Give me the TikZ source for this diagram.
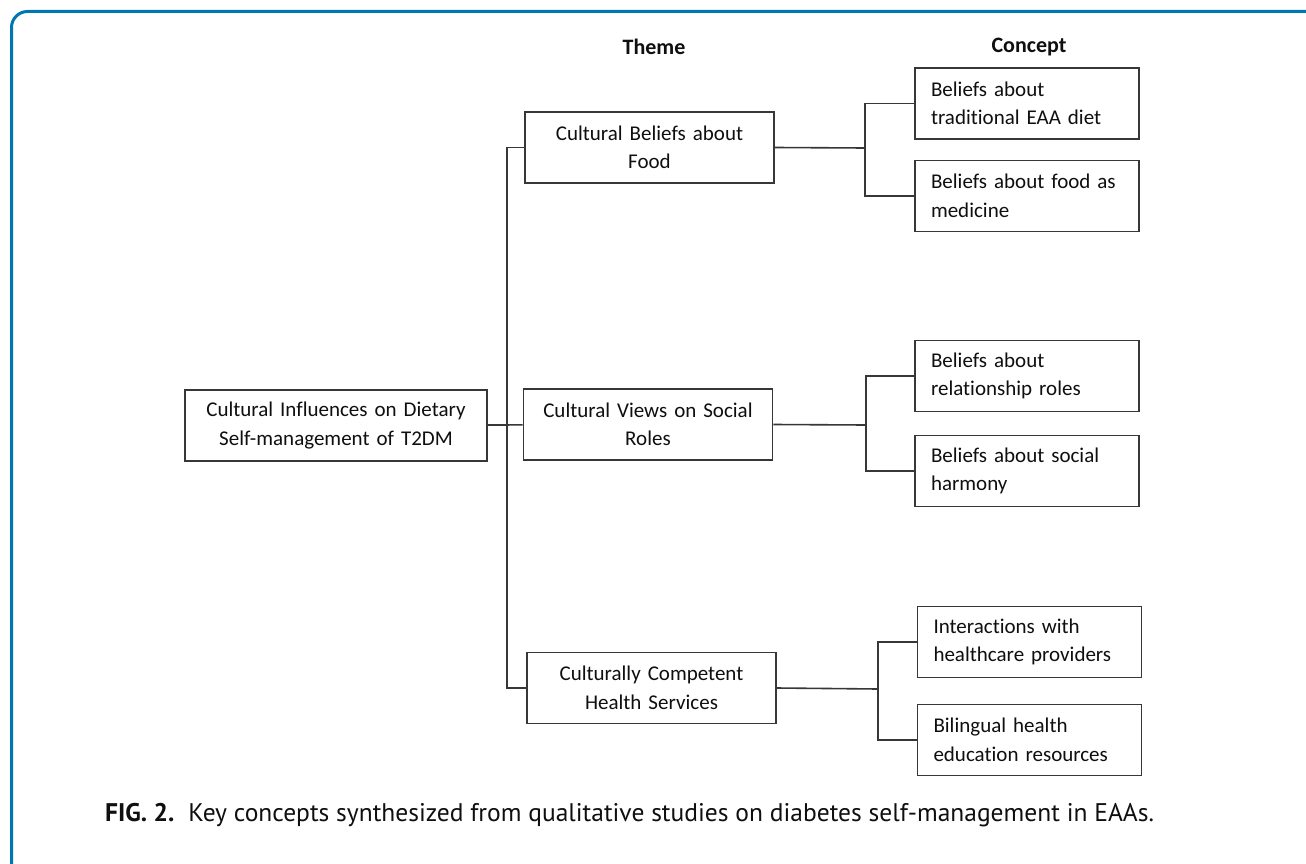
\documentclass[tikz,border=0pt]{standalone}
\usepackage{fontspec}
\setmainfont{Carlito}[Ligatures={NoCommon}]
\newfontfamily\capfont{PT Sans}
\definecolor{framecol}{RGB}{0,119,179}
\definecolor{boxline}{RGB}{55,55,55}
\definecolor{txt}{RGB}{15,15,15}
\begin{document}
\begin{tikzpicture}[x=1pt,y=-1pt,
  box/.style={draw=boxline, line width=1.6pt, text=txt, font=\fontsize{21}{28.5}\selectfont, minimum height=71pt},
  themebox/.style={box, text width=233pt, inner xsep=8pt, align=center},
  rootbox/.style={box, text width=286pt, inner xsep=8pt, align=center},
  conceptbox/.style={box, text width=192pt, inner xsep=16pt, align=left},
  link/.style={draw=boxline, line width=1.6pt},
  head/.style={font=\fontsize{22}{26}\selectfont\bfseries, text=txt}]
\useasboundingbox (0,0) rectangle (1306,864);
\fill[white] (0,0) rectangle (1306,864);
\draw[framecol, line width=3pt, rounded corners=16pt] (11.5,880) -- (11.5,11.5) -- (1320,11.5);

\node[head] (hT) at (654,47) {Theme};
\node[head] (hC) at (1029,47) {Concept};

\node[rootbox] (root) at (336,425.5) {Cultural Influences on Dietary\\Self-management of T2DM};
\node[themebox] (t1) at (649.5,147.5) {Cultural Beliefs about\\Food};
\node[themebox] (t2) at (648,424.5) {Cultural Views on Social\\Roles};
\node[themebox] (t3) at (651.5,688) {Culturally Competent\\Health Services};

\node[conceptbox] (c1) at (1027,103.5) {Beliefs about\\traditional EAA diet};
\node[conceptbox] (c2) at (1027,196) {Beliefs about food as\\medicine};
\node[conceptbox] (c3) at (1027,376) {Beliefs about\\relationship roles};
\node[conceptbox] (c4) at (1027,471) {Beliefs about social\\harmony};
\node[conceptbox] (c5) at (1029.5,642) {Interactions with\\healthcare providers};
\node[conceptbox] (c6) at (1029.5,740) {Bilingual health\\education resources};

\coordinate (j) at (507,425);
\coordinate (b1) at (865,148);
\coordinate (b2) at (866,425);
\coordinate (b3) at (878,689);

\draw[link] (root) -- (t2);
\draw[link] (t1.west) -| (j) |- (t3.west);
\draw[link] (t1.east) -- (b1);
\draw[link] (c1.west) -| (b1) |- (c2.west);
\draw[link] (t2.east) -- (b2);
\draw[link] (c3.west) -| (b2) |- (c4.west);
\draw[link] (t3.east) -- (b3);
\draw[link] (c5.west) -| (b3) |- (c6.west);

\node[anchor=base west, inner sep=0pt, text=txt, font=\capfont\fontsize{25.5}{30}\selectfont] (cap) at (105,821)
  {\textbf{FIG. 2.}\hspace{14pt}Key concepts synthesized from qualitative studies on diabetes self-management in EAAs.};
\end{tikzpicture}
\end{document}
